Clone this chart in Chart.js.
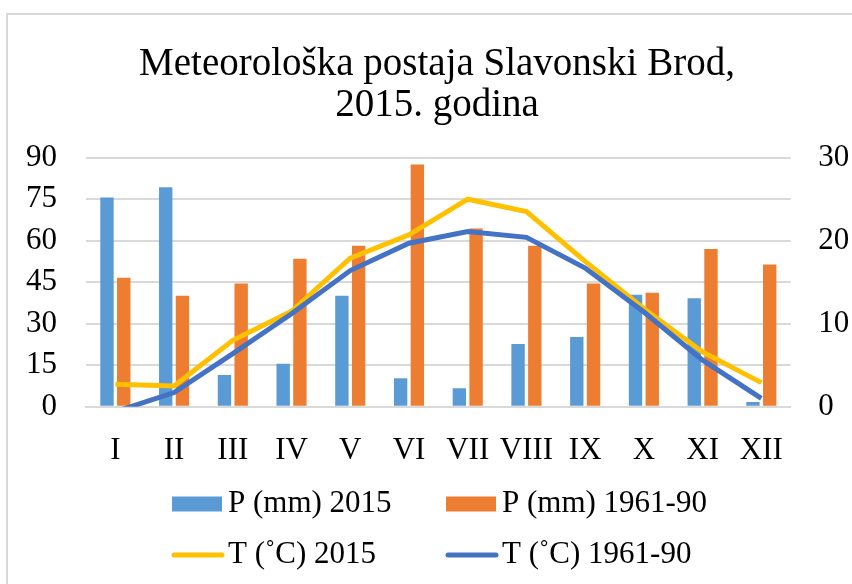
<!DOCTYPE html>
<html>
<head>
<meta charset="utf-8">
<script src="https://cdn.jsdelivr.net/npm/chart.js@4"></script>
<style>
  body { margin: 0; background: #fff; }
  .frame { position: absolute; left: 6px; top: 13px; width: 900px; height: 620px; border: 2px solid #d9d9d9; }
  .g-container { position: absolute; left: 0; top: 0; width: 852px; height: 584px; }
</style>
</head>
<body>
<div class="frame"></div>
<div class="g-container"><canvas id="myChart"></canvas></div>
<script>
var months = ['I', 'II', 'III', 'IV', 'V', 'VI', 'VII', 'VIII', 'IX', 'X', 'XI', 'XII'];
var p2015 = [75.6, 79.3, 11.5, 15.5, 40.1, 10.3, 6.7, 22.7, 25.2, 40.5, 39.2, 1.7];
var p6190 = [46.6, 40.1, 44.5, 53.5, 58.2, 87.5, 64.4, 58.2, 44.5, 41.2, 57.0, 51.4];
var t2015 = [2.7, 2.5, 8.0, 11.5, 17.9, 20.7, 25.0, 23.5, 17.5, 11.8, 6.6, 2.9];
var t6190 = [-0.6, 1.7, 6.4, 11.2, 16.4, 19.7, 21.1, 20.4, 16.7, 11.4, 5.6, 1.0];
var pTicks = [0, 15, 30, 45, 60, 75, 90];
var tTicks = [0, 10, 20, 30];

var serif = 'Liberation Serif';

// legend drawn by hand so the two columns line up like in excel
var legendPlugin = {
    id: 'colLegend',
    afterDraw: function (chart) {
        var ctx = chart.ctx;
        var cols = [172, 446];
        var rows = [504, 555];
        ctx.save();
        ctx.font = '31px "' + serif + '"';
        ctx.textBaseline = 'middle';
        ctx.textAlign = 'left';
        chart.data.datasets.forEach(function (ds, i) {
            var x = cols[i % 2];
            var y = rows[Math.floor(i / 2)];
            if (ds.type == 'line') {
                ctx.strokeStyle = ds.borderColor;
                ctx.lineWidth = 5;
                ctx.lineCap = 'round';
                ctx.beginPath();
                ctx.moveTo(x + 2, y);
                ctx.lineTo(x + 50, y);
                ctx.stroke();
            } else {
                ctx.fillStyle = ds.backgroundColor;
                ctx.fillRect(x, y - 7.5, 50, 15);
            }
            ctx.fillStyle = '#000';
            ctx.fillText(ds.label, x + 56, y);
        });
        ctx.restore();
    }
};

var ctx = document.getElementById('myChart').getContext('2d');
var myChart = new Chart(ctx, {
    data: {
        labels: months,
        datasets: [{
            type: 'bar',
            label: 'P (mm) 2015',
            data: p2015,
            backgroundColor: '#5B9BD5',
            yAxisID: 'y',
            order: 2,
            categoryPercentage: 0.57,
            barPercentage: 0.8
        }, {
            type: 'bar',
            label: 'P (mm) 1961-90',
            data: p6190,
            backgroundColor: '#ED7D31',
            yAxisID: 'y',
            order: 2,
            categoryPercentage: 0.57,
            barPercentage: 0.8
        }, {
            type: 'line',
            label: 'T (˚C) 2015',
            data: t2015,
            borderColor: '#FFC000',
            backgroundColor: '#FFC000',
            borderWidth: 5,
            pointRadius: 0,
            tension: 0,
            yAxisID: 'y1',
            order: 1
        }, {
            type: 'line',
            label: 'T (˚C) 1961-90',
            data: t6190,
            borderColor: '#4472C4',
            backgroundColor: '#4472C4',
            borderWidth: 5,
            pointRadius: 0,
            tension: 0,
            yAxisID: 'y1',
            order: 0
        }]
    },
    options: {
        responsive: true,
        maintainAspectRatio: false,
        animation: false,
        // left padding only there to push the title centre right a bit
        layout: { padding: { left: 22, right: 0, top: 0, bottom: 0 } },
        plugins: {
            legend: { display: false },
            tooltip: { enabled: false },
            title: {
                display: true,
                text: ['Meteorološka postaja Slavonski Brod,', '2015. godina'],
                color: '#000',
                font: { family: serif, size: 39, weight: 'normal', lineHeight: 1.06 },
                padding: { top: 44, bottom: 31 }
            }
        },
        scales: {
            x: {
                grid: { display: false },
                border: { display: true, color: '#d9d9d9', width: 2 },
                ticks: { color: '#000', font: { family: serif, size: 31 }, padding: 18, maxRotation: 0, autoSkip: false },
                afterFit: function (scale) { scale.height = 177.3; }
            },
            y: {
                position: 'left',
                min: pTicks[0],
                max: pTicks[pTicks.length - 1],
                afterBuildTicks: function (scale) {
                    scale.ticks = pTicks.map(function (v) { return { value: v }; });
                },
                grid: { color: '#d9d9d9', lineWidth: 2, drawTicks: false },
                border: { display: false },
                ticks: { color: '#000', font: { family: serif, size: 31 }, padding: 29 },
                afterFit: function (scale) { scale.width = 64; }
            },
            y1: {
                position: 'right',
                min: tTicks[0],
                max: tTicks[tTicks.length - 1],
                afterBuildTicks: function (scale) {
                    scale.ticks = tTicks.map(function (v) { return { value: v }; });
                },
                grid: { display: false, drawTicks: false },
                border: { display: false },
                ticks: { color: '#000', font: { family: serif, size: 31 }, padding: 27.6 },
                afterFit: function (scale) { scale.width = 61.3; }
            }
        }
    },
    plugins: [legendPlugin]
});
</script>
</body>
</html>
